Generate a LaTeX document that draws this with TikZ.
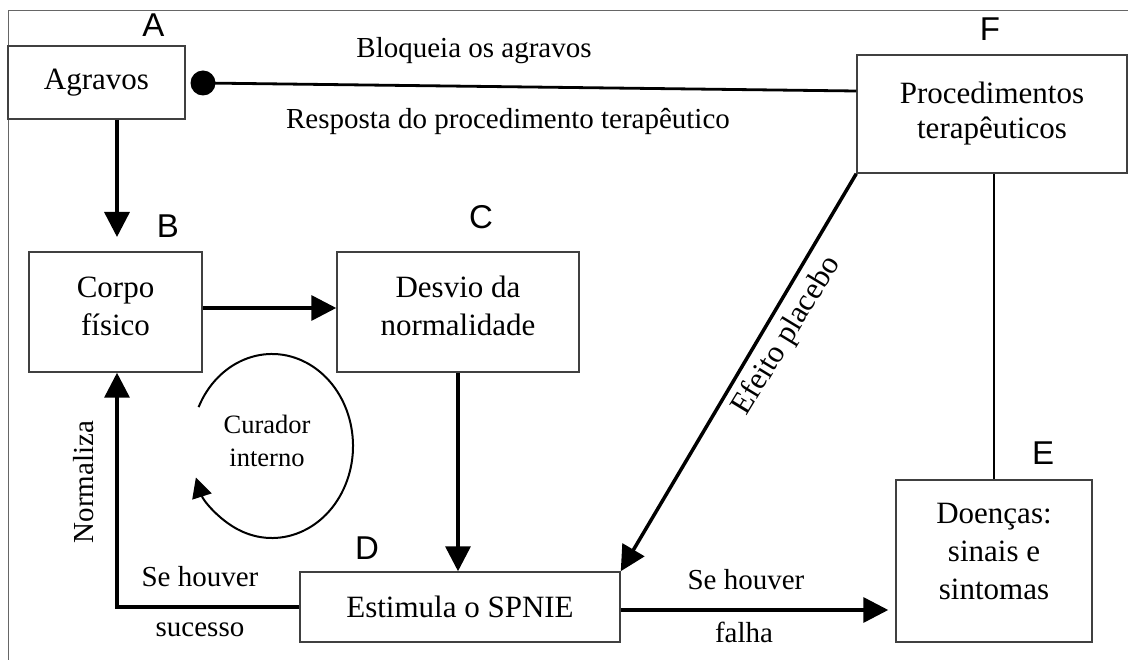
\documentclass[tikz,border=0pt]{standalone}
\usepackage{fontspec}
\setmainfont{Liberation Serif}
\newfontfamily\letterfont{Liberation Sans}
\usetikzlibrary{arrows.meta}

\tikzset{
  box/.style={shape=rectangle,draw=black!75,line width=1.5pt,align=center,inner sep=0pt,
    font=\fontsize{31}{38}\selectfont},
  tag/.style={font=\letterfont\fontsize{33}{33}\selectfont},
  lbl/.style={font=\fontsize{29}{34}\selectfont},
  flow/.style={line width=3.5pt,-{Triangle[length=25pt,width=25pt]}},
}

\begin{document}
\begin{tikzpicture}[x=1pt,y=-1pt]
  \useasboundingbox (0,0) rectangle (1128,660);
  \draw[black!60,line width=1pt] (8,660) -- (8,11) -- (1128,11);

  \node[box,minimum width=177pt,minimum height=73pt] (A) at (96.5,82.5) {Agravos};
  \node[box,minimum width=173pt,minimum height=120pt,text depth=12pt] (B) at (115.5,312) {Corpo\\físico};
  \node[box,minimum width=242pt,minimum height=120pt,text depth=12pt] (C) at (458,312) {Desvio da\\normalidade};
  \node[box,minimum width=320pt,minimum height=70pt] (D) at (460,607) {Estimula o SPNIE};
  \node[box,minimum width=196pt,minimum height=162pt,text depth=20pt] (E) at (994,561) {Doenças:\\sinais e\\sintomas};
  \node[box,minimum width=270pt,minimum height=118pt,font=\fontsize{31}{35}\selectfont] (F) at (992,114) {Procedimentos\\terapêuticos};

  \node[tag] (lA) at (153.5,25) {A};
  \node[tag] (lB) at (168,226) {B};
  \node[tag] (lC) at (481,217) {C};
  \node[tag] (lD) at (367,548) {D};
  \node[tag] (lE) at (1043,453) {E};
  \node[tag] (lF) at (990,29.5) {F};

  \node[shape=circle,fill=black,minimum size=25pt,inner sep=0pt] (dot) at (203,83) {};
  \draw[line width=2.8pt] (dot.center) -- ([yshift=23pt]F.west);
  \node[lbl] (block) at (474,51) {Bloqueia os agravos};
  \node[lbl] (resp) at (508,122) {Resposta do procedimento terapêutico};

  \coordinate (ab) at (117,237);
  \draw[flow] ([xshift=20.5pt]A.south) -- (ab);
  \draw[flow] ([yshift=4pt]B.east) -- ([yshift=4pt]C.west);
  \draw[flow] (C.south) -- (C.south |- D.north);
  \draw[flow] (D.west) -| ([xshift=1.5pt]B.south);
  \draw[flow,shorten >=7pt] ([yshift=-3pt]D.east) -- ([yshift=-3pt]D.east -| E.west);
  \draw[flow] (F.south west) -- (D.north east);
  \draw[line width=2.8pt] (E.north) -- (E.north |- F.south);

  \node[lbl,rotate=90] (norm) at (84,482) {Normaliza};
  \node[lbl] (succ1) at (200,577) {Se houver};
  \node[lbl] (succ2) at (200,630) {sucesso};
  \node[lbl] (fail1) at (746,580) {Se houver};
  \node[lbl] (fail2) at (744,632) {falha};
  \node[lbl,font=\fontsize{31}{34}\selectfont,rotate=58.7] (plac) at (787,336) {Efeito placebo};

  \node[font=\fontsize{26.5}{33}\selectfont,align=center] (cur) at (267,441) {Curador\\interno};
  \draw[line width=2pt,-{Triangle[length=20pt,width=20pt]}] (272,446) ++(155:81pt and 92pt)
    arc[start angle=155,end angle=-160,x radius=81pt,y radius=92pt];
\end{tikzpicture}
\end{document}
